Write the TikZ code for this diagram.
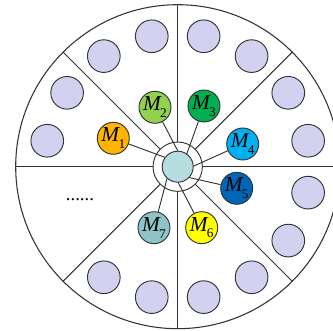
\documentclass[tikz,border=0pt]{standalone}
\usepackage{fontspec}
\setmainfont{Liberation Serif}
\usetikzlibrary{positioning}

\definecolor{lavfill}{RGB}{210,210,240}
\definecolor{hubfill}{RGB}{182,222,224}
\definecolor{mone}{RGB}{255,180,0}
\definecolor{mtwo}{RGB}{146,208,80}
\definecolor{mthree}{RGB}{0,176,80}
\definecolor{mfour}{RGB}{0,176,240}
\definecolor{mfive}{RGB}{0,102,184}
\definecolor{msix}{RGB}{255,255,0}
\definecolor{mseven}{RGB}{140,196,200}
\definecolor{edgegray}{RGB}{50,50,50}
\newcommand{\mlab}[1]{{\itshape M}\kern-0.5pt\raisebox{-5pt}{\fontsize{10}{12}\selectfont #1}}

\begin{document}
\begin{tikzpicture}[x=0.75pt,y=0.75pt,
  cell/.style={circle,draw=edgegray,fill=lavfill,line width=0.7pt,minimum size=24.5pt,inner sep=0pt},
  mnode/.style={circle,draw=edgegray,line width=0.7pt,minimum size=24pt,inner sep=0pt,font=\fontsize{16}{18}\selectfont},
  link/.style={draw=edgegray,line width=0.7pt}]
\useasboundingbox (-177.7,-164.3) rectangle (155.3,166.7);
\node[circle,draw=edgegray,line width=0.8pt,minimum size=243pt,inner sep=0pt] (rim) at (0,0) {};
\node[circle,draw=edgegray,line width=0.7pt,minimum size=37pt,inner sep=0pt] (ring) at (0,0) {};
\node[circle,draw=edgegray,fill=hubfill,line width=0.7pt,minimum size=23.25pt,inner sep=0pt] (hub) at (0,0) {};
% sector borders
\foreach \a in {0,45,...,315}
  \draw[link] (ring.\a) -- (rim.\a);
% lavender cells, two per sector
\foreach \s [count=\k] in {0,45,90,135,225,270,315} {
  \node[cell] (cell-\k-a) at (\s+11.25:133) {};
  \node[cell] (cell-\k-b) at (\s+33.75:133) {};
}
\node[font=\fontsize{14}{16}\selectfont] (gap) at (-97.7,-33) {......};
% inner nodes
\node[mnode,fill=mone] (m1) at (-64.4,28.4) {\mlab{1}};
\node[mnode,fill=mtwo] (m2) at (-22.7,59.4) {\mlab{2}};
\node[mnode,fill=mthree] (m3) at (26.3,60.7) {\mlab{3}};
\node[mnode,fill=mfour] (m4) at (65,22.7) {\mlab{4}};
\node[mnode,fill=mfive] (m5) at (59,-21.6) {\mlab{5}};
\node[mnode,fill=msix] (m6) at (24,-61) {\mlab{6}};
\node[mnode,fill=mseven] (m7) at (-23.7,-61) {\mlab{7}};
\draw[link] (m1) -- (hub.144);
\draw[link] (m2) -- (hub.90);
\draw[link] (m3) -- (hub.55);
\draw[link] (m4) -- (hub.2);
\draw[link] (m5) -- (hub.-43);
\draw[link] (m6) -- (hub.-88);
\draw[link] (m7) -- (hub.-132);
\end{tikzpicture}
\end{document}
